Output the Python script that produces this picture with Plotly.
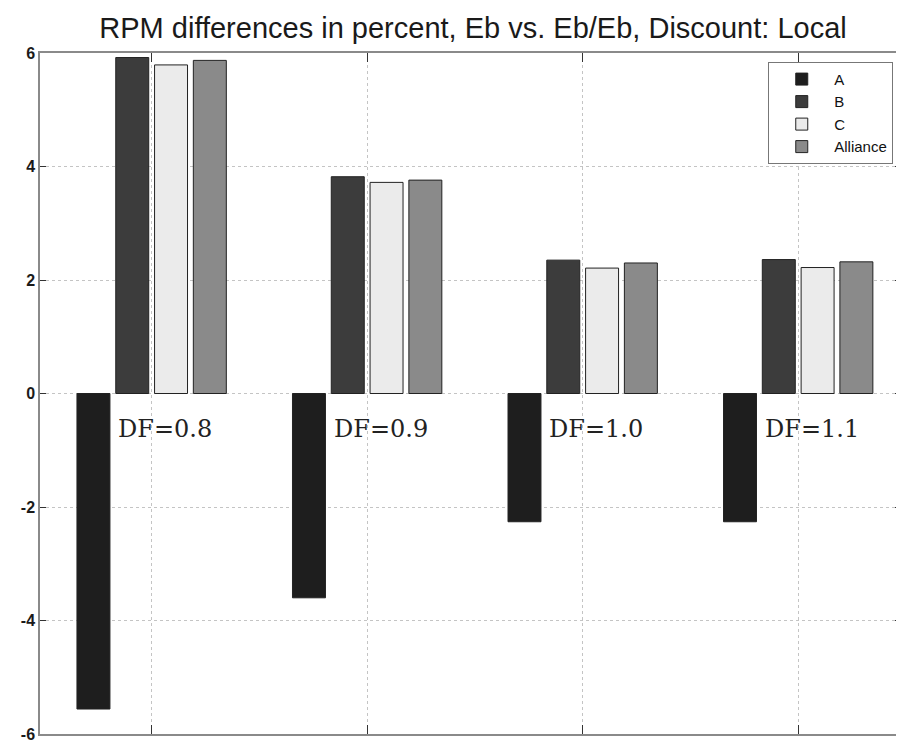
import plotly.graph_objects as go

groups = [1, 2, 3, 4]
df_labels = ["DF=0.8", "DF=0.9", "DF=1.0", "DF=1.1"]
series_names = ["A", "B", "C", "Alliance"]
val_A = [-5.56, -3.60, -2.26, -2.26]
val_B = [5.92, 3.82, 2.35, 2.36]
val_C = [5.79, 3.72, 2.21, 2.22]
val_Alliance = [5.87, 3.76, 2.30, 2.32]
y_ticks = [-6, -4, -2, 0, 2, 4, 6]

values = [val_A, val_B, val_C, val_Alliance]
colors = ["#1e1e1e", "#3c3c3c", "#ebebeb", "#8a8a8a"]

fig = go.Figure()
for name, vals, col in zip(series_names, values, colors):
    fig.add_trace(go.Bar(x=groups, y=vals, name=name,
                         marker=dict(color=col, line=dict(color="#222222", width=1))))

for g, lab in zip(groups, df_labels):
    fig.add_annotation(x=g + 0.062, y=-0.63, text=lab, showarrow=False,
                       font=dict(family="DejaVu Serif", size=24, color="#222222"),
                       xref="x", yref="y")

axis_common = dict(showline=True, linecolor="#8a8a8a", linewidth=1.5, mirror="ticks",
                   showgrid=True, gridcolor="#c4c4c4", griddash="dot", gridwidth=1,
                   zeroline=False, ticks="inside", tickcolor="#333333")

fig.update_layout(
    width=896, height=738,
    margin=dict(l=32, r=1, t=45, b=12),
    plot_bgcolor="white", paper_bgcolor="white",
    barmode="group", bargap=0.28, bargroupgap=0.15,
    title=dict(text="RPM differences in percent, Eb vs. Eb/Eb, Discount: Local",
               x=0.519, xanchor="center", y=0.973, yanchor="middle",
               font=dict(family="Liberation Sans", size=29, color="#1a1a1a")),
    xaxis=dict(range=[0.482, 4.477], tickvals=groups, showticklabels=False, ticklen=9,
               **axis_common),
    yaxis=dict(range=[-6, 6], tickvals=y_ticks, ticktext=[str(t) for t in y_ticks], ticklen=6,
               tickfont=dict(family="Liberation Sans", size=16, color="#1a1a1a", weight="bold"),
               **axis_common),
    legend=dict(x=0.991, y=0.987, xanchor="right", yanchor="top",
                bgcolor="white", bordercolor="#777777", borderwidth=1,
                font=dict(family="Liberation Sans", size=15, color="#111111"),
                tracegroupgap=0, itemwidth=55),
    showlegend=True,
)

fig.write_html("out.html")
